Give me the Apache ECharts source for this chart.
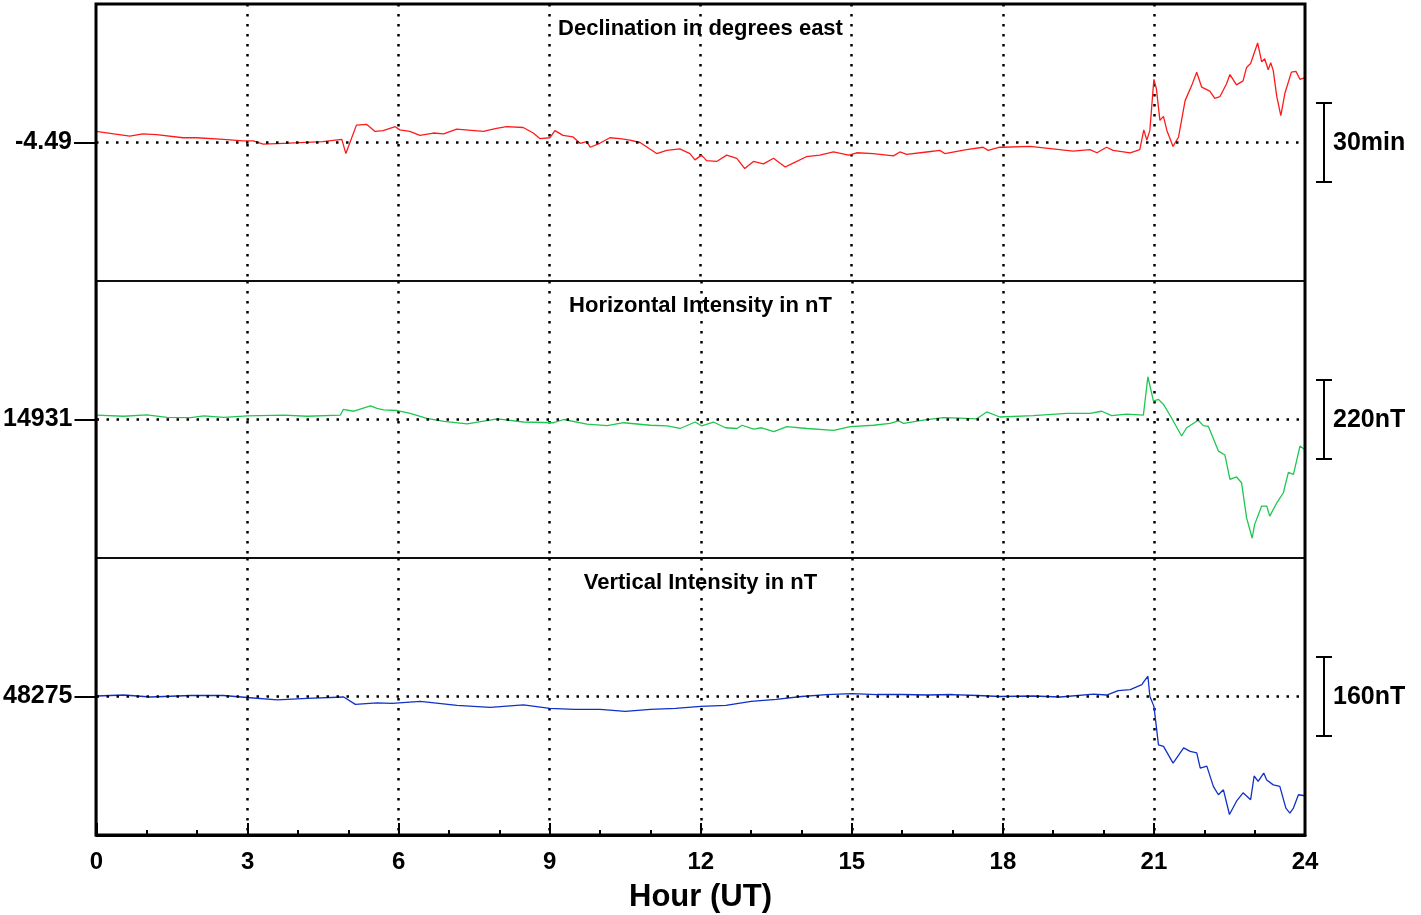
<!DOCTYPE html>
<html>
<head>
<meta charset="utf-8">
<script src="https://cdn.jsdelivr.net/npm/echarts@6/dist/echarts.min.js"></script>
<style>
html,body{margin:0;padding:0;background:#fff;}
#chart{width:1421px;height:915px;}
</style>
</head>
<body>
<div id="chart"></div>
<script>
// ---------------- data ----------------
const xTicks = [0, 3, 6, 9, 12, 15, 18, 21, 24];
const panelTitles = ['Declination in degrees east', 'Horizontal Intensity in nT', 'Vertical Intensity in nT'];
const baselines = [-4.49, 14931, 48275];
const baselineLabels = ['-4.49', '14931', '48275'];
const scaleValues = [0.5, 220, 160];
const scaleLabels = ['30min', '220nT', '160nT'];
const xAxisTitle = 'Hour (UT)';

const declination = [
[0,-4.42],[0.67,-4.45],[0.93,-4.435],[1.2,-4.44],[1.73,-4.46],[2.0,-4.46],[2.53,-4.47],[2.92,-4.48],[3.12,-4.48],[3.32,-4.50],[3.72,-4.495],[4.5,-4.485],[4.88,-4.47],[4.89,-4.46],[4.96,-4.56],[5.17,-4.38],[5.37,-4.375],[5.54,-4.42],[5.7,-4.415],[5.94,-4.39],[6.03,-4.41],[6.23,-4.42],[6.43,-4.445],[6.7,-4.43],[6.9,-4.435],[7.16,-4.405],[7.69,-4.42],[7.95,-4.40],[8.15,-4.39],[8.48,-4.395],[8.68,-4.43],[8.81,-4.465],[9.01,-4.46],[9.11,-4.415],[9.27,-4.445],[9.47,-4.455],[9.61,-4.495],[9.74,-4.485],[9.81,-4.52],[10.0,-4.495],[10.2,-4.46],[10.4,-4.465],[10.6,-4.475],[10.8,-4.49],[11.13,-4.56],[11.33,-4.54],[11.59,-4.53],[11.79,-4.56],[11.89,-4.60],[12.02,-4.57],[12.12,-4.605],[12.32,-4.61],[12.52,-4.57],[12.72,-4.59],[12.88,-4.655],[13.05,-4.61],[13.25,-4.625],[13.45,-4.59],[13.68,-4.645],[13.84,-4.62],[14.1,-4.58],[14.37,-4.57],[14.64,-4.55],[14.94,-4.57],[15.1,-4.555],[15.43,-4.56],[15.83,-4.575],[15.96,-4.55],[16.09,-4.565],[16.49,-4.55],[16.75,-4.54],[16.85,-4.56],[17.28,-4.535],[17.61,-4.52],[17.71,-4.54],[17.94,-4.52],[18.01,-4.52],[18.54,-4.515],[19.4,-4.545],[19.73,-4.535],[19.87,-4.555],[20.06,-4.52],[20.19,-4.54],[20.53,-4.555],[20.72,-4.535],[20.8,-4.41],[20.86,-4.475],[20.92,-4.415],[21.0,-4.09],[21.05,-4.15],[21.12,-4.35],[21.19,-4.325],[21.26,-4.415],[21.38,-4.515],[21.49,-4.455],[21.62,-4.225],[21.75,-4.13],[21.85,-4.045],[21.95,-4.14],[22.11,-4.165],[22.21,-4.21],[22.31,-4.2],[22.44,-4.12],[22.51,-4.06],[22.64,-4.125],[22.77,-4.1],[22.84,-4.015],[22.92,-3.99],[23.06,-3.86],[23.14,-3.98],[23.2,-3.96],[23.27,-4.03],[23.32,-3.985],[23.37,-4.035],[23.44,-4.2],[23.52,-4.32],[23.6,-4.18],[23.73,-4.045],[23.82,-4.04],[23.9,-4.09],[24.0,-4.08]
];

const horizontal = [
[0,14943],[0.54,14940],[1.0,14944],[1.4,14937],[1.87,14936],[2.13,14941],[2.53,14937],[3.0,14941],[3.72,14943],[4.18,14940],[4.84,14943],[4.9,14959],[5.11,14954],[5.44,14969],[5.57,14962],[5.7,14958],[5.97,14956],[6.23,14948],[6.56,14934],[6.9,14926],[7.36,14919],[7.96,14933],[8.48,14924],[9.08,14922],[9.28,14931],[9.74,14918],[10.14,14914],[10.47,14922],[11.0,14915],[11.33,14913],[11.59,14906],[11.89,14924],[12.02,14913],[12.25,14924],[12.49,14908],[12.72,14906],[12.82,14915],[13.05,14904],[13.21,14908],[13.45,14897],[13.71,14911],[14.11,14906],[14.64,14901],[14.97,14911],[15.43,14915],[15.76,14920],[15.93,14927],[16.03,14920],[16.42,14929],[16.82,14936],[17.15,14935],[17.48,14933],[17.68,14952],[17.94,14938],[18.6,14942],[19.27,14948],[19.73,14948],[19.96,14954],[20.16,14942],[20.46,14946],[20.79,14943],[20.88,15050],[20.99,14982],[21.09,14987],[21.19,14973],[21.33,14940],[21.55,14885],[21.65,14908],[21.88,14929],[21.98,14914],[22.08,14912],[22.28,14843],[22.41,14832],[22.51,14764],[22.64,14771],[22.74,14755],[22.84,14657],[22.95,14601],[23.0,14639],[23.14,14690],[23.24,14690],[23.3,14662],[23.44,14699],[23.57,14727],[23.67,14784],[23.77,14778],[23.9,14857],[24.0,14847]
];

const vertical = [
[0,48276],[0.54,48278],[1.07,48274],[1.87,48277],[2.52,48277],[2.99,48273],[3.59,48268],[4.18,48271],[4.91,48274],[5.14,48259],[5.57,48262],[5.87,48261],[6.43,48265],[7.16,48257],[7.82,48253],[8.48,48258],[9.0,48251],[9.5,48249],[10.0,48249],[10.5,48245],[11.0,48249],[11.5,48251],[12.0,48255],[12.5,48257],[13.0,48265],[13.5,48269],[14.0,48275],[14.5,48279],[15.0,48281],[15.5,48279],[16.0,48279],[16.5,48278],[17.0,48279],[17.5,48277],[17.94,48275],[18.6,48276],[19.14,48274],[19.8,48280],[20.06,48278],[20.29,48287],[20.53,48289],[20.76,48299],[20.8,48305],[20.88,48316],[20.92,48275],[21.0,48255],[21.09,48177],[21.19,48174],[21.38,48140],[21.59,48171],[21.72,48164],[21.85,48161],[21.92,48130],[22.05,48134],[22.18,48093],[22.28,48076],[22.38,48086],[22.5,48036],[22.64,48063],[22.77,48080],[22.92,48066],[22.99,48114],[23.07,48103],[23.18,48120],[23.24,48106],[23.37,48096],[23.5,48093],[23.62,48049],[23.7,48039],[23.77,48049],[23.87,48076],[24.0,48074]
];

const seriesData = [declination, horizontal, vertical];
const seriesColors = ['#ff1a1a', '#1ec850', '#1030c8'];

// ---------------- layout ----------------
const L = { left: 96, right: 116, top: 4, panelH: 277, spanRatio: 3.506 };
const plotW = 1421 - L.left - L.right;
const FONT = '"Liberation Sans", Arial, Helvetica, sans-serif';
const dotted = { color: '#000', type: [2.5, 7.5], width: 2.5 };

const chart = echarts.init(document.getElementById('chart'), null, { renderer: 'canvas' });

const grids = [], xAxes = [], yAxes = [], series = [];
for (let i = 0; i < 3; i++) {
  grids.push({ left: L.left, width: plotW, top: L.top + i * L.panelH, height: L.panelH,
               show: true, borderColor: '#000', borderWidth: 1.5, backgroundColor: 'transparent', containLabel: false });
  const isBottom = i === 2;
  xAxes.push({
    type: 'value', gridIndex: i, min: 0, max: 24, interval: 3,
    axisLine: { show: isBottom, onZero: false, lineStyle: { color: '#000', width: 3 } },
    axisTick: { show: isBottom, inside: true, length: 12, lineStyle: { color: '#000', width: 2 } },
    minorTick: { show: isBottom, splitNumber: 3, length: 5, lineStyle: { color: '#000', width: 2 } },
    axisLabel: { show: isBottom, margin: 15, color: '#000', fontFamily: FONT, fontWeight: 'bold', fontSize: 24,
                 customValues: xTicks },
    splitLine: { show: true, showMinLine: false, showMaxLine: false, lineStyle: dotted }
  });
  const half = scaleValues[i] * L.spanRatio / 2;
  yAxes.push({
    type: 'value', gridIndex: i, min: baselines[i] - half, max: baselines[i] + half,
    axisLine: { show: false },
    axisTick: { show: true, length: 22, customValues: [baselines[i]], lineStyle: { color: '#000', width: 2 } },
    axisLabel: { show: true, margin: 24, color: '#000', fontFamily: FONT, fontWeight: 'bold', fontSize: 25,
                 customValues: [baselines[i]], formatter: () => baselineLabels[i] },
    splitLine: { show: false }
  });
  series.push({
    type: 'line', xAxisIndex: i, yAxisIndex: i, data: seriesData[i],
    showSymbol: false, symbol: 'none', smooth: false, animation: false,
    lineStyle: { color: seriesColors[i], width: 1.3 },
    markLine: { silent: true, symbol: ['none', 'none'], animation: false, label: { show: false },
                lineStyle: dotted, data: [{ yAxis: baselines[i] }] },
    z: 3
  });
}

chart.setOption({
  backgroundColor: '#fff',
  animation: false,
  grid: grids, xAxis: xAxes, yAxis: yAxes, series: series
});

// annotations computed from the axes
const graphics = [];
graphics.push({ type: 'rect', z: 100, silent: true,
  shape: { x: L.left, y: L.top, width: plotW, height: 3 * L.panelH },
  style: { fill: 'none', stroke: '#000', lineWidth: 3 } });
const barX = L.left + plotW + 19;
for (let i = 0; i < 3; i++) {
  const yTop = chart.convertToPixel({ yAxisIndex: i }, baselines[i] + scaleValues[i] / 2);
  const yBot = chart.convertToPixel({ yAxisIndex: i }, baselines[i] - scaleValues[i] / 2);
  const yMid = chart.convertToPixel({ yAxisIndex: i }, baselines[i]);
  const panelTop = L.top + i * L.panelH;
  graphics.push({ type: 'line', z: 100, shape: { x1: barX, y1: yTop, x2: barX, y2: yBot }, style: { stroke: '#000', lineWidth: 2 } });
  graphics.push({ type: 'line', z: 100, shape: { x1: barX - 8, y1: yTop, x2: barX + 8, y2: yTop }, style: { stroke: '#000', lineWidth: 2 } });
  graphics.push({ type: 'line', z: 100, shape: { x1: barX - 8, y1: yBot, x2: barX + 8, y2: yBot }, style: { stroke: '#000', lineWidth: 2 } });
  graphics.push({ type: 'text', z: 100, x: barX + 9, y: yMid + 1,
    style: { text: scaleLabels[i], fill: '#000', font: 'bold 25px ' + FONT, textAlign: 'left', textVerticalAlign: 'middle' } });
  graphics.push({ type: 'text', z: 100, x: L.left + plotW / 2, y: panelTop + 25,
    style: { text: panelTitles[i], fill: '#000', font: 'bold 22px ' + FONT, textAlign: 'center', textVerticalAlign: 'middle' } });
}
graphics.push({ type: 'text', z: 100, x: L.left + plotW / 2, y: 897,
  style: { text: xAxisTitle, fill: '#000', font: 'bold 31px ' + FONT, textAlign: 'center', textVerticalAlign: 'middle' } });

chart.setOption({ graphic: graphics });
</script>
</body>
</html>
